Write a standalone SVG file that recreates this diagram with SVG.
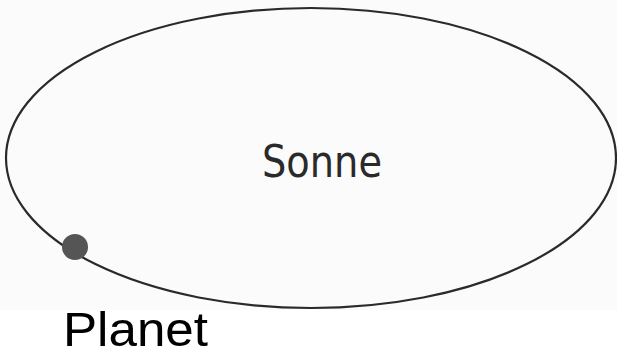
<svg xmlns="http://www.w3.org/2000/svg" width="617" height="352" viewBox="0 0 617 352">
<style>
.orbit{fill:none;stroke:#2a2a2a;stroke-width:2.2}
.sun{font-family:"DejaVu Sans",sans-serif;font-size:44px;fill:#2a2a2a}
.lbl{font-family:"Liberation Sans",Arial,sans-serif;font-size:49px;fill:#000}
</style>
<rect x="0" y="0" width="617" height="310" fill="#fbfbfb"/>
<rect x="0" y="310" width="617" height="42" fill="#fff"/>
<g id="orbit">
<ellipse class="orbit" cx="311" cy="158" rx="305" ry="150"/>
</g>
<g id="sonne">
<text class="sun" x="262" y="177" textLength="120" lengthAdjust="spacingAndGlyphs">Sonne</text>
</g>
<g id="planet">
<circle cx="75" cy="247" r="13" fill="#555"/>
<text class="lbl" x="63" y="346" textLength="145" lengthAdjust="spacingAndGlyphs">Planet</text>
</g>
</svg>
